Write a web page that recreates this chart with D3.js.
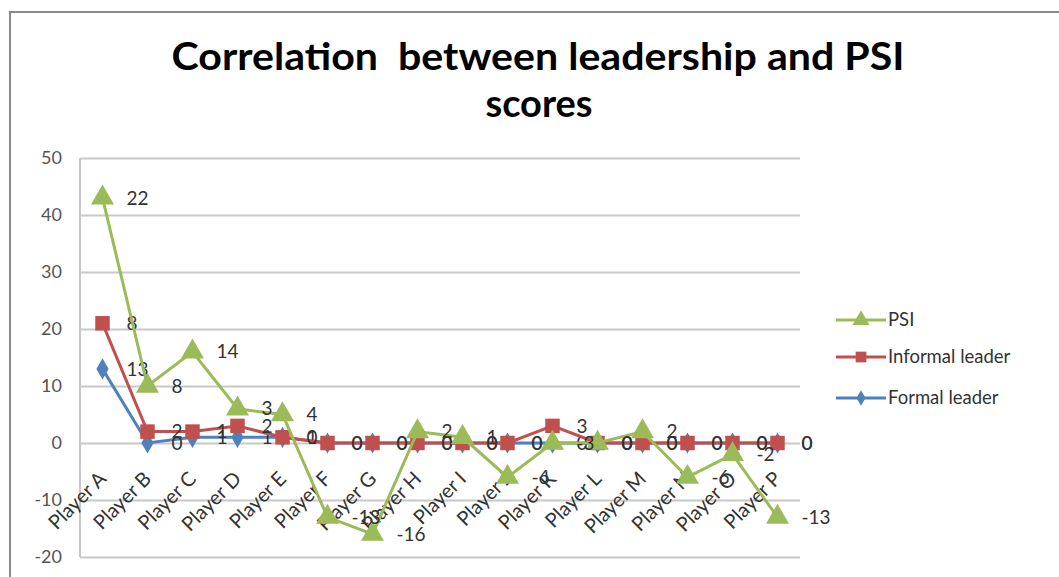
<!DOCTYPE html>
<html>
<head>
<meta charset="utf-8">
<script src="https://cdn.jsdelivr.net/npm/d3@7"></script>
<style>
  body { margin: 0; background: #fff; }
  svg { display: block; font-family: Lato, "Open Sans", sans-serif; }
</style>
</head>
<body>
<div id="chart-area"></div>
<script>
// Data (stacked line chart: each series sits on top of the previous one)
var players = ["Player A", "Player B", "Player C", "Player D", "Player E", "Player F",
    "Player G", "Player H", "Player I", "Player J", "Player K", "Player L",
    "Player M", "Player N", "Player O", "Player P"];
var formalLeader   = [13, 0, 1, 1, 1, 0, 0, 0, 0, 0, 0, 0, 0, 0, 0, 0];
var informalLeader = [8, 2, 1, 2, 0, 0, 0, 0, 0, 0, 3, 0, 0, 0, 0, 0];
var psiScores      = [22, 8, 14, 3, 4, -13, -16, 2, 1, -6, -3, 0, 2, -6, -2, -13];
var yTicks = [-20, -10, 0, 10, 20, 30, 40, 50];

var seriesNames = ["Formal leader", "Informal leader", "PSI"];
var seriesValues = [formalLeader, informalLeader, psiScores];
var colors = ["#4f81bd", "#c0504d", "#9bbb59"];

var W = 1059, H = 577;
var plot = {left: 80, right: 800, top: 158, bottom: 557};

var svg = d3.select("#chart-area").append("svg")
    .attr("width", W)
    .attr("height", H);

// chart frame
svg.append("rect")
    .attr("x", 10).attr("y", 12)
    .attr("width", 1200).attr("height", 700)
    .attr("fill", "#fff")
    .attr("stroke", "#8a8a8a")
    .attr("stroke-width", 2);

// Title
var title = svg.append("text")
    .attr("text-anchor", "middle")
    .attr("font-weight", "bold")
    .attr("font-size", 38)
    .attr("fill", "#000");
title.append("tspan").attr("x", 538).attr("y", 70)
    .attr("textLength", 733)
    .attr("lengthAdjust", "spacingAndGlyphs")
    .text("Correlation\u00a0 between leadership and PSI");
title.append("tspan").attr("x", 539).attr("y", 117).text("scores");

// table for d3.stack
var table = players.map(function(p, i) {
    var row = {player: p};
    seriesNames.forEach(function(s, j) { row[s] = seriesValues[j][i]; });
    return row;
});
var stacked = d3.stack().keys(seriesNames).offset(d3.stackOffsetNone)(table);

// Scales
var x = d3.scaleBand().domain(players).range([plot.left, plot.right]);
var y = d3.scaleLinear().domain([-20, 50]).range([plot.bottom, plot.top]);
var cx = function(p) { return x(p) + x.bandwidth() / 2; };

// Gridlines + y labels
var yAxis = svg.append("g")
    .attr("transform", "translate(" + plot.left + ",0)")
    .call(d3.axisLeft(y).tickValues(yTicks)
        .tickFormat(function(d) { return String(d); })
        .tickSize(-(plot.right - plot.left)).tickPadding(18));
yAxis.select(".domain").remove();
yAxis.selectAll(".tick line")
    .attr("stroke", "#c8c8c8").attr("stroke-width", 2);
yAxis.selectAll(".tick text")
    .attr("font-size", 18).attr("fill", "#555")
    .attr("font-family", "Lato, sans-serif");

// vertical axis line
svg.append("line")
    .attr("x1", plot.left).attr("x2", plot.left)
    .attr("y1", plot.top).attr("y2", plot.bottom)
    .attr("stroke", "#c8c8c8").attr("stroke-width", 2);

// Category labels (rotated, hanging from the zero line)
svg.append("g").selectAll("text")
    .data(players)
    .enter().append("text")
    .attr("transform", function(d) {
        return "translate(" + (cx(d) + 5) + "," + (y(0) + 37) + ") rotate(-45)";
    })
    .attr("text-anchor", "end")
    .attr("font-size", 20)
    .attr("fill", "#333")
    .text(function(d) { return d; });

// Lines
var line = d3.line()
    .x(function(d) { return cx(d.data.player); })
    .y(function(d) { return y(d[1]); });

var seriesG = svg.append("g").selectAll("g")
    .data(stacked)
    .enter().append("g");

seriesG.append("path")
    .attr("fill", "none")
    .attr("stroke", function(d, i) { return colors[i]; })
    .attr("stroke-width", 3)
    .attr("d", line);

var symbols = [d3.symbolDiamond, d3.symbolSquare, d3.symbolTriangle];
var sizes = [130, 210, 230];

seriesG.each(function(s, i) {
    d3.select(this).selectAll("path.mark")
        .data(s)
        .enter().append("path")
        .attr("class", "mark")
        .attr("transform", function(d) {
            return "translate(" + cx(d.data.player) + "," + y(d[1]) + ")";
        })
        .attr("d", d3.symbol().type(symbols[i]).size(sizes[i]))
        .attr("fill", colors[i]);
});

// Data labels (raw value, right of the point)
seriesG.each(function(s, i) {
    d3.select(this).selectAll("text")
        .data(s)
        .enter().append("text")
        .attr("x", function(d) { return cx(d.data.player) + 24; })
        .attr("y", function(d) { return y(d[1]); })
        .attr("dy", "0.35em")
        .attr("font-size", 19)
        .attr("fill", "#333")
        .text(function(d) { return d.data[s.key]; });
});

// Legend (reverse order like Excel's stacked chart)
var legendItems = [2, 1, 0];
var legendY = [320, 357, 398];
var legend = svg.append("g").selectAll("g")
    .data(legendItems)
    .enter().append("g")
    .attr("transform", function(d, k) { return "translate(836," + legendY[k] + ")"; });
legend.append("line")
    .attr("x1", 0).attr("x2", 50)
    .attr("stroke", function(d) { return colors[d]; })
    .attr("stroke-width", 3);
legend.append("path")
    .attr("transform", "translate(25,0)")
    .attr("d", function(d) { return d3.symbol().type(symbols[d]).size(sizes[d] * 0.55)(); })
    .attr("fill", function(d) { return colors[d]; });
legend.append("text")
    .attr("x", 52)
    .attr("dy", "0.35em")
    .attr("font-size", 18.5)
    .attr("fill", "#333")
    .text(function(d) { return seriesNames[d]; });
</script>
</body>
</html>
